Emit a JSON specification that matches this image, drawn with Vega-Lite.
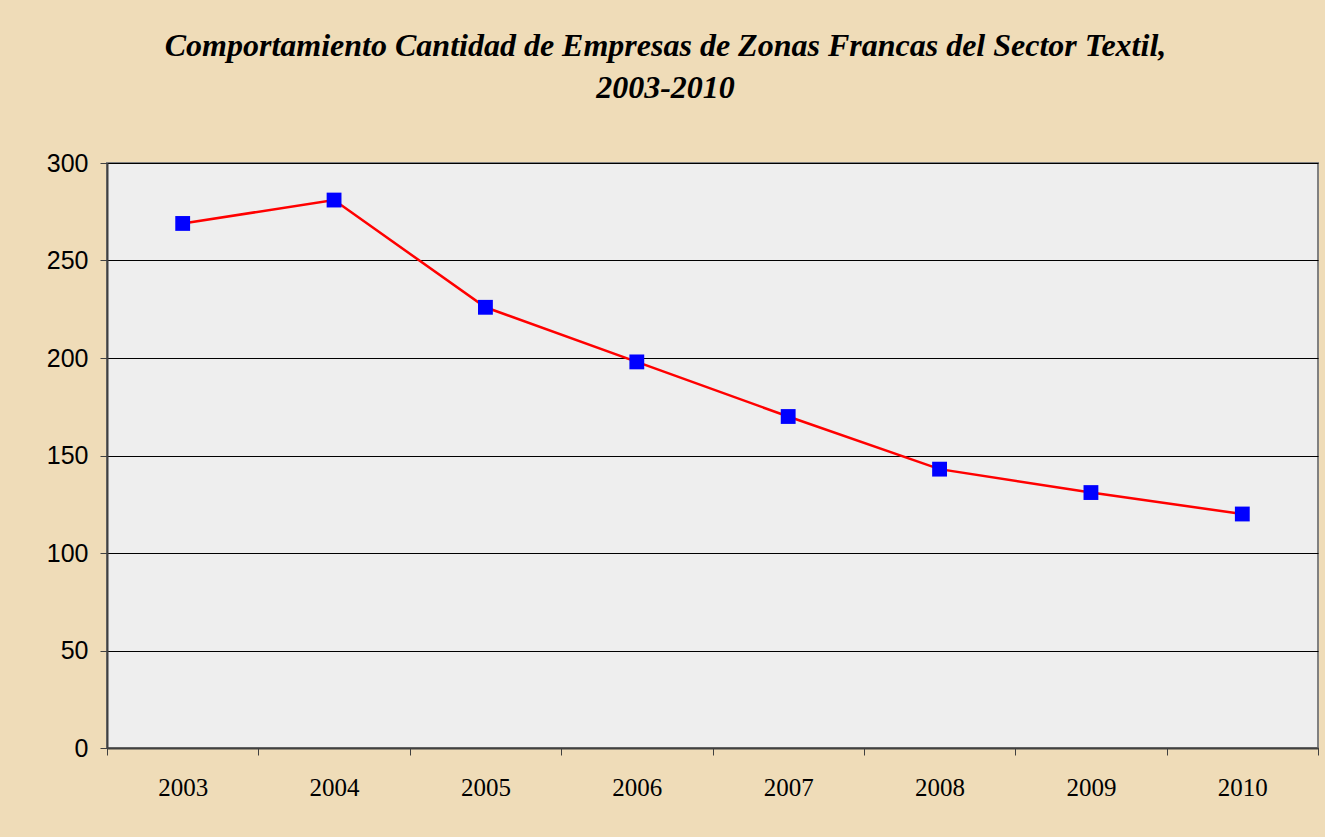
{
  "$schema": "https://vega.github.io/schema/vega-lite/v6.json",
  "width": 1211,
  "height": 585,
  "autosize": {"type": "none"},
  "padding": {"left": 107, "top": 163, "right": 7, "bottom": 89},
  "background": "#efdcb8",
  "title": {
    "text": ["Comportamiento Cantidad de Empresas de Zonas Francas del Sector Textil,", "2003-2010"],
    "font": "Liberation Serif",
    "fontSize": 32,
    "fontWeight": "bold",
    "fontStyle": "italic",
    "color": "#000000",
    "anchor": "middle",
    "dx": -47,
    "offset": 46,
    "lineHeight": 42
  },
  "data": {
    "values": [
      {"year": "2003", "empresas": 269},
      {"year": "2004", "empresas": 281},
      {"year": "2005", "empresas": 226},
      {"year": "2006", "empresas": 198},
      {"year": "2007", "empresas": 170},
      {"year": "2008", "empresas": 143},
      {"year": "2009", "empresas": 131},
      {"year": "2010", "empresas": 120}
    ]
  },
  "encoding": {
    "x": {
      "field": "year",
      "type": "ordinal",
      "scale": {"paddingInner": 0, "paddingOuter": 0},
      "axis": {
        "title": null,
        "labelAngle": 0,
        "labelFont": "Liberation Serif",
        "labelFontSize": 25,
        "labelColor": "#000000",
        "labelPadding": 20,
        "tickBand": "extent",
        "tickColor": "#404040",
        "tickSize": 7,
        "domainColor": "#404040",
        "domainWidth": 2,
        "grid": false
      }
    },
    "y": {
      "field": "empresas",
      "type": "quantitative",
      "scale": {"domain": [0, 300], "nice": false},
      "axis": {
        "title": null,
        "values": [0, 50, 100, 150, 200, 250, 300],
        "labelFont": "Liberation Sans",
        "labelFontSize": 25,
        "labelColor": "#000000",
        "labelPadding": 12,
        "tickColor": "#404040",
        "tickSize": 7,
        "domainColor": "#404040",
        "domainWidth": 2,
        "grid": true,
        "gridColor": "#000000",
        "gridWidth": 1,
        "gridOpacity": 1
      }
    }
  },
  "layer": [
    {"mark": {"type": "line", "color": "#ff0000", "strokeWidth": 2.5}},
    {"mark": {"type": "point", "shape": "square", "filled": true, "color": "#0000ff", "size": 220, "opacity": 1}}
  ],
  "config": {
    "view": {"fill": "#eeeeee", "stroke": "#808080", "strokeWidth": 2}
  }
}
